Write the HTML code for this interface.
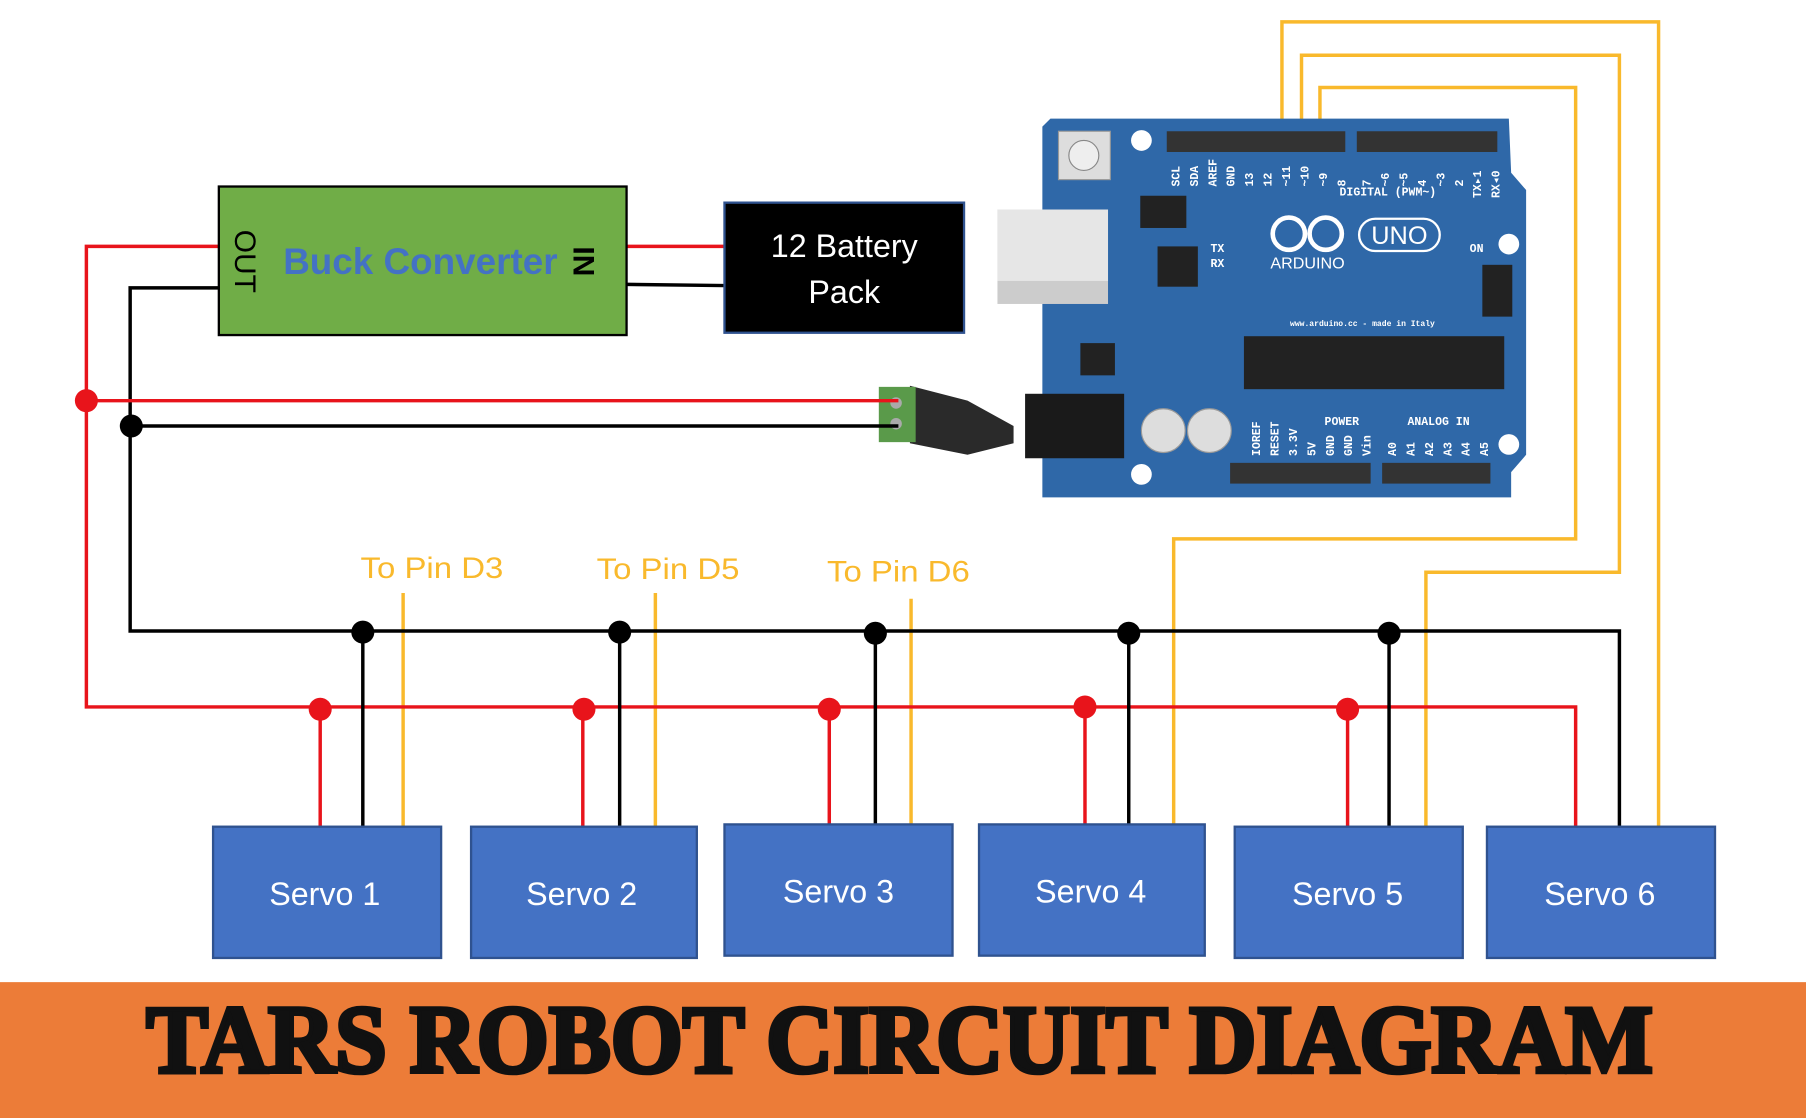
<!DOCTYPE html>
<html><head><meta charset="utf-8"><style>
html,body{margin:0;padding:0;background:#fff;}
svg{display:block;}
</style></head><body>
<svg width="1806" height="1118" viewBox="0 0 1568 971" preserveAspectRatio="none" xmlns="http://www.w3.org/2000/svg" font-family="Liberation Sans, sans-serif">
<rect width="1568" height="971" fill="#fff"/>
<g fill="none" stroke="#f9b92c" stroke-width="3">
<polyline points="1019,716 1019,468 1368,468 1368,76 1146,76 1146,104"/>
<polyline points="1238,718 1238,497 1406,497 1406,48 1130,48 1130,104"/>
<polyline points="1440,718 1440,19 1113,19 1113,104"/>
<line x1="350" y1="515" x2="350" y2="718"/>
<line x1="569" y1="515" x2="569" y2="720"/>
<line x1="791" y1="520" x2="791" y2="716"/>
</g>
<g fill="#f9b92c" font-size="26">
<text x="313" y="502" textLength="124" lengthAdjust="spacingAndGlyphs">To Pin D3</text>
<text x="518" y="503" textLength="124" lengthAdjust="spacingAndGlyphs">To Pin D5</text>
<text x="718" y="505" textLength="124" lengthAdjust="spacingAndGlyphs">To Pin D6</text>
</g>
<path d="M912,103 H1310 L1312,150 L1325,165 V395 L1312,410 V432 H905 V110 Z" fill="#2f68a8"/>
<rect x="1013" y="114" width="155" height="18" fill="#333"/>
<rect x="1178" y="114" width="122" height="18" fill="#333"/>
<rect x="1068" y="402" width="122" height="18" fill="#333"/>
<rect x="1200" y="402" width="94" height="18" fill="#333"/>
<rect x="1080" y="292" width="226" height="46" fill="#222"/>
<rect x="1005" y="214" width="35" height="35" fill="#222"/>
<rect x="990" y="170" width="40" height="28" fill="#222"/>
<rect x="1287" y="230" width="26" height="45" fill="#222"/>
<rect x="919" y="114" width="45" height="42" fill="#ddd" stroke="#999"/>
<circle cx="941" cy="135" r="13" fill="#eee" stroke="#888"/>
<circle cx="991" cy="122" r="9" fill="#fff"/>
<circle cx="1310" cy="212" r="9" fill="#fff"/>
<circle cx="1310" cy="386" r="9" fill="#fff"/>
<circle cx="991" cy="412" r="9" fill="#fff"/>
<circle cx="1010" cy="374" r="19" fill="#ddd" stroke="#999"/>
<circle cx="1050" cy="374" r="19" fill="#ddd" stroke="#999"/>
<rect x="866" y="182" width="96" height="82" fill="#ccc"/>
<rect x="866" y="182" width="96" height="62" fill="#e6e6e6"/>
<rect x="890" y="342" width="86" height="56" fill="#1a1a1a"/>
<rect x="938" y="298" width="30" height="28" fill="#222"/>
<g fill="#fff" font-family="Liberation Mono, monospace" font-size="10" font-weight="bold">
<text x="1163" y="170">DIGITAL (PWM~)</text>
<text x="1150" y="369">POWER</text>
<text x="1222" y="369">ANALOG IN</text>
<text x="1120" y="283" font-size="7">www.arduino.cc - made in Italy</text>
<text x="1276" y="219">ON</text>
<text x="1051" y="219">TX</text><text x="1051" y="232">RX</text>
<text transform="translate(1024,162) rotate(-90)">SCL</text>
<text transform="translate(1040,162) rotate(-90)">SDA</text>
<text transform="translate(1056,162) rotate(-90)">AREF</text>
<text transform="translate(1072,162) rotate(-90)">GND</text>
<text transform="translate(1088,162) rotate(-90)">13</text>
<text transform="translate(1104,162) rotate(-90)">12</text>
<text transform="translate(1120,162) rotate(-90)">~11</text>
<text transform="translate(1136,162) rotate(-90)">~10</text>
<text transform="translate(1152,162) rotate(-90)">~9</text>
<text transform="translate(1168,162) rotate(-90)">8</text>
<text transform="translate(1190,162) rotate(-90)">7</text>
<text transform="translate(1206,162) rotate(-90)">~6</text>
<text transform="translate(1222,162) rotate(-90)">~5</text>
<text transform="translate(1238,162) rotate(-90)">4</text>
<text transform="translate(1254,162) rotate(-90)">~3</text>
<text transform="translate(1270,162) rotate(-90)">2</text>
<text transform="translate(1286,172) rotate(-90)">TX▸1</text>
<text transform="translate(1302,172) rotate(-90)">RX◂0</text>
<text transform="translate(1094,396) rotate(-90)">IOREF</text>
<text transform="translate(1110,396) rotate(-90)">RESET</text>
<text transform="translate(1126,396) rotate(-90)">3.3V</text>
<text transform="translate(1142,396) rotate(-90)">5V</text>
<text transform="translate(1158,396) rotate(-90)">GND</text>
<text transform="translate(1174,396) rotate(-90)">GND</text>
<text transform="translate(1190,396) rotate(-90)">Vin</text>
<text transform="translate(1212,396) rotate(-90)">A0</text>
<text transform="translate(1228,396) rotate(-90)">A1</text>
<text transform="translate(1244,396) rotate(-90)">A2</text>
<text transform="translate(1260,396) rotate(-90)">A3</text>
<text transform="translate(1276,396) rotate(-90)">A4</text>
<text transform="translate(1292,396) rotate(-90)">A5</text>
</g>
<g fill="none" stroke="#fff" stroke-width="4">
<circle cx="1119" cy="203" r="14"/><circle cx="1151" cy="203" r="14"/>
<rect x="1180" y="190" width="70" height="28" rx="14" stroke-width="2"/>
</g>
<text x="1215" y="212" fill="#fff" font-size="22" text-anchor="middle">UNO</text>
<text x="1103" y="233" fill="#fff" font-size="14">ARDUINO</text>
<path d="M790,335 L840,348 L880,370 L880,385 L840,395 L790,385 Z" fill="#2a2a2a"/>
<rect x="763" y="336" width="32" height="48" fill="#5a9a4a"/>
<circle cx="778" cy="350" r="5" fill="#aaa"/><circle cx="778" cy="368" r="5" fill="#aaa"/>
<g fill="none" stroke-width="3">
<polyline stroke="#e8141b" points="190,214 75,214 75,614 1368,614 1368,718"/>
<polyline stroke="#000" points="190,250 113,250 113,548 1406,548 1406,718"/>
<line stroke="#e8141b" x1="544" y1="214" x2="629" y2="214"/>
<line stroke="#000" x1="544" y1="247" x2="629" y2="248"/>
<line stroke="#e8141b" x1="75" y1="348" x2="780" y2="348"/>
<line stroke="#000" x1="113" y1="370" x2="780" y2="370"/>
<g stroke="#e8141b"><line x1="278" y1="614" x2="278" y2="718"/><line x1="506" y1="614" x2="506" y2="718"/><line x1="720" y1="614" x2="720" y2="716"/><line x1="942" y1="614" x2="942" y2="716"/><line x1="1170" y1="614" x2="1170" y2="718"/></g>
<g stroke="#000"><line x1="315" y1="548" x2="315" y2="718"/><line x1="538" y1="548" x2="538" y2="718"/><line x1="760" y1="548" x2="760" y2="716"/><line x1="980" y1="548" x2="980" y2="716"/><line x1="1206" y1="548" x2="1206" y2="718"/></g>
</g>
<g fill="#e8141b"><circle cx="75" cy="348" r="10"/><circle cx="278" cy="616" r="10"/><circle cx="507" cy="616" r="10"/><circle cx="720" cy="616" r="10"/><circle cx="942" cy="614" r="10"/><circle cx="1170" cy="616" r="10"/></g>
<g fill="#000"><circle cx="114" cy="370" r="10"/><circle cx="315" cy="549" r="10"/><circle cx="538" cy="549" r="10"/><circle cx="760" cy="550" r="10"/><circle cx="980" cy="550" r="10"/><circle cx="1206" cy="550" r="10"/></g>
<rect x="190" y="162" width="354" height="129" fill="#70ad47" stroke="#000" stroke-width="2"/>
<text x="365" y="238" fill="#4472c4" font-size="32" font-weight="bold" text-anchor="middle">Buck Converter</text>
<text transform="translate(204,227) rotate(90)" font-size="26" text-anchor="middle">OUT</text>
<text transform="translate(498,227) rotate(90)" font-size="26" font-weight="bold" text-anchor="middle">IN</text>
<rect x="629" y="176" width="208" height="113" fill="#000" stroke="#2f528f" stroke-width="2"/>
<text x="733" y="223" fill="#fff" font-size="28" text-anchor="middle">12 Battery</text>
<text x="733" y="263" fill="#fff" font-size="28" text-anchor="middle">Pack</text>
<g fill="#4472c4" stroke="#2f528f" stroke-width="2">
<rect x="185" y="718" width="198" height="114"/><rect x="409" y="718" width="196" height="114"/><rect x="629" y="716" width="198" height="114"/><rect x="850" y="716" width="196" height="114"/><rect x="1072" y="718" width="198" height="114"/><rect x="1291" y="718" width="198" height="114"/>
</g>
<g fill="#fff" font-size="28" text-anchor="middle">
<text x="282" y="786">Servo 1</text><text x="505" y="786">Servo 2</text><text x="728" y="784">Servo 3</text><text x="947" y="784">Servo 4</text><text x="1170" y="786">Servo 5</text><text x="1389" y="786">Servo 6</text>
</g>
<rect x="0" y="853" width="1568" height="118" fill="#ec7c38"/>
<text x="127" y="931" font-family="Liberation Serif, serif" font-weight="bold" font-size="84" textLength="1308" lengthAdjust="spacingAndGlyphs" fill="#111" stroke="#111" stroke-width="4">TARS ROBOT CIRCUIT DIAGRAM</text>
</svg>
</body></html>
